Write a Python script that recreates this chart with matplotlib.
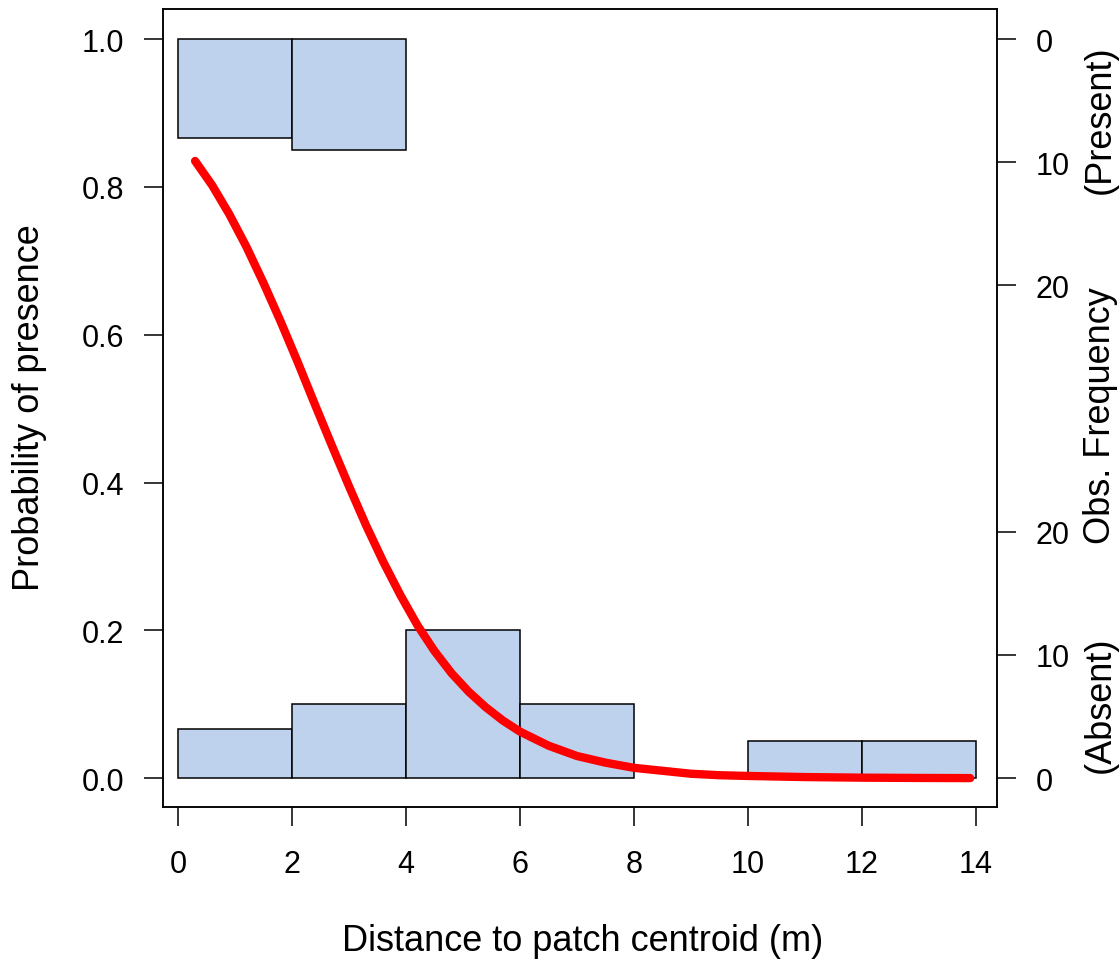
import matplotlib.pyplot as plt

plt.rcParams['font.family'] = ['Liberation Sans', 'DejaVu Sans']

# histogram bins (m) and observed counts
bin_edges = [0, 2, 4, 6, 8, 10, 12, 14]
absent_counts = [4, 6, 12, 6, 0, 3, 3]
present_counts = [8, 9, 0, 0, 0, 0, 0]
count_scale = 1 / 60  # one observation in probability units

# fitted logistic curve
curve_x = [0.3, 0.6, 0.9, 1.2, 1.5, 1.8, 2.1, 2.4, 2.7, 3.0, 3.3, 3.6, 3.9,
           4.2, 4.5, 4.8, 5.1, 5.4, 5.7, 6.0, 6.5, 7.0, 7.5, 8.0, 8.5, 9.0,
           9.5, 10.0, 11.0, 12.0, 13.0, 13.9]
curve_y = [0.835, 0.802, 0.763, 0.719, 0.670, 0.618, 0.563, 0.506, 0.450, 0.395,
           0.342, 0.293, 0.248, 0.207, 0.172, 0.142, 0.117, 0.096, 0.078, 0.063,
           0.044, 0.030, 0.021, 0.014, 0.010, 0.006, 0.004, 0.003, 0.0015, 0.0007,
           0.0003, 0.0001]

freq_ticks = [0, 10, 20]

fig = plt.figure(figsize=(11.19, 9.62), dpi=100)
ax = fig.add_axes([163 / 1119, 154 / 962, 834 / 1119, 798 / 962])

bar_color = '#BED2EE'
for i in range(len(bin_edges) - 1):
    left = bin_edges[i]
    width = bin_edges[i + 1] - left
    if absent_counts[i] > 0:
        ax.bar(left, absent_counts[i] * count_scale, width=width, bottom=0,
               align='edge', color=bar_color, edgecolor='black', linewidth=1.1, zorder=2)
    if present_counts[i] > 0:
        h = present_counts[i] * count_scale
        ax.bar(left, h, width=width, bottom=1 - h,
               align='edge', color=bar_color, edgecolor='black', linewidth=1.1, zorder=2)

ax.plot(curve_x, curve_y, color='red', linewidth=6, solid_capstyle='round',
        solid_joinstyle='round', zorder=3)

ax.set_xlim(-0.263, 14.37)
ax.set_ylim(-0.039, 1.0406)
ax.set_xticks(bin_edges)
ax.set_yticks([0, 0.2, 0.4, 0.6, 0.8, 1.0])
ax.set_yticklabels(['0.0', '0.2', '0.4', '0.6', '0.8', '1.0'])

for sp in ax.spines.values():
    sp.set_linewidth(1.1)

ax.tick_params(axis='x', direction='out', length=14, width=1.1, pad=16, labelsize=22)
ax.tick_params(axis='y', direction='out', length=14, width=1.1, pad=14, labelsize=22)

# right axis: observed frequencies
ax2 = ax.twinx()
ax2.set_ylim(ax.get_ylim())
pos = [c * count_scale for c in freq_ticks] + [1 - c * count_scale for c in freq_ticks]
labs = [str(c) for c in freq_ticks] + [str(c) for c in freq_ticks]
ax2.set_yticks(pos)
ax2.set_yticklabels(labs)
ax2.tick_params(axis='y', direction='out', length=14, width=1.1, pad=14, labelsize=22)
for sp in ax2.spines.values():
    sp.set_linewidth(1.1)

fig.text(583 / 1119, 1 - 942 / 962, 'Distance to patch centroid (m)', fontsize=26,
         ha='center', va='center')
fig.text(30 / 1119, 1 - 408 / 962, 'Probability of presence', fontsize=26,
         ha='center', va='center', rotation=90)
fig.text(1100 / 1119, 1 - 416 / 962, 'Obs. Frequency', fontsize=26,
         ha='center', va='center', rotation=90)
fig.text(1100 / 1119, 1 - 120 / 962, '(Present)', fontsize=26,
         ha='center', va='center', rotation=90)
fig.text(1100 / 1119, 1 - 705 / 962, '(Absent)', fontsize=26,
         ha='center', va='center', rotation=90)

fig.savefig('out.png', dpi=100)
